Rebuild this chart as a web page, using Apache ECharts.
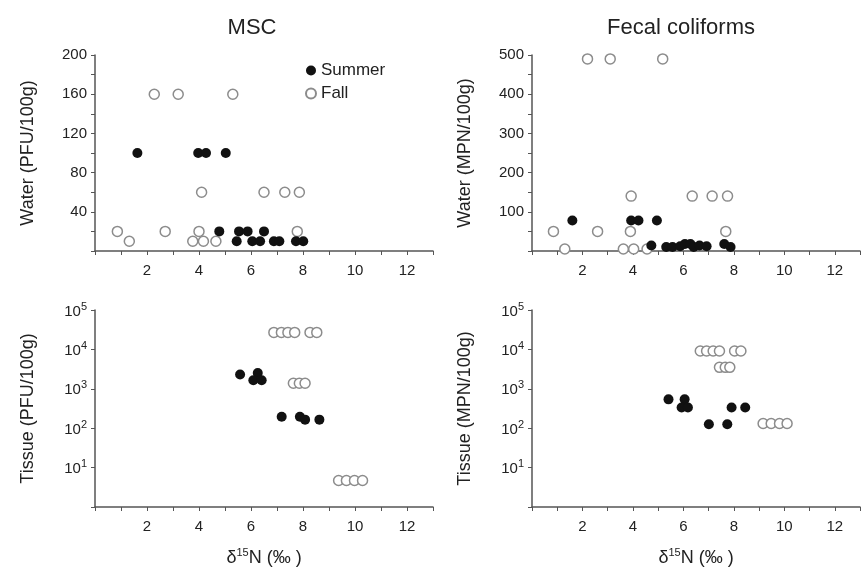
<!DOCTYPE html>
<html>
<head>
<meta charset="UTF-8">
<title>MSC / Fecal coliforms</title>
<script src="https://cdn.jsdelivr.net/npm/echarts@6/dist/echarts.min.js"></script>
<style>
  *{margin:0;padding:0;}
  body{background:#fff;}
  #main{width:863px;height:577px;}
</style>
</head>
<body>
<div id="main"></div>
<script type="text/javascript">
// values: [delta15N, count]
var mscWaterSummer = [[1.63,100],[3.97,100],[4.27,100],[5.03,100],[4.78,20],[5.54,20],[5.87,20],[6.5,20],
  [5.45,10],[6.05,10],[6.35,10],[6.88,10],[7.09,10],[7.73,10],[8.01,10]];
var mscWaterFall = [[2.28,160],[3.2,160],[5.3,160],[4.1,60],[6.5,60],[7.3,60],[7.86,60],
  [0.86,20],[2.7,20],[4.0,20],[7.78,20],[1.32,10],[3.76,10],[4.17,10],[4.65,10]];
var fecWaterSummer = [[1.6,78],[3.93,78],[4.22,78],[4.95,78],[4.73,14],[5.32,10],[5.57,10],[5.87,12],
  [6.06,18],[6.28,18],[6.41,10],[6.64,14],[6.92,12],[7.62,18],[7.87,10]];
var fecWaterFall = [[2.2,490],[3.1,490],[5.18,490],[3.93,140],[6.35,140],[7.14,140],[7.75,140],
  [0.85,50],[2.6,50],[3.9,50],[7.68,50],[1.3,5],[3.62,5],[4.03,5],[4.56,5]];
var mscTissueSummer = [[5.58,2300],[6.26,2500],[6.09,1650],[6.41,1650],[7.18,195],[7.88,195],[8.08,165],[8.63,165]];
var mscTissueFall = [[6.88,27000],[7.17,27000],[7.42,27000],[7.68,27000],[8.27,27000],[8.53,27000],
  [7.63,1380],[7.86,1380],[8.08,1380],[9.37,4.7],[9.67,4.7],[9.98,4.7],[10.29,4.7]];
var fecTissueSummer = [[5.41,540],[6.05,540],[5.93,336],[6.18,336],[7.01,126],[7.74,126],[7.91,336],[8.45,336]];
var fecTissueFall = [[6.67,9100],[6.92,9100],[7.18,9100],[7.43,9100],[8.03,9100],[8.28,9100],
  [7.43,3500],[7.66,3500],[7.84,3500],[9.16,132],[9.48,132],[9.81,132],[10.11,132]];

var titles = ['MSC', 'Fecal coliforms'];
var yNames = ['Water (PFU/100g)', 'Water (MPN/100g)', 'Tissue (PFU/100g)', 'Tissue (MPN/100g)'];
var xName = 'δ{s|15}N (‰ )';

var font = 'Liberation Sans Narrow, Liberation Sans, Arial, sans-serif';
var axisColor = '#555';

var myChart = echarts.init(document.getElementById('main'));

function xAxisFor(i) {
  var ax = {
    type: 'value', gridIndex: i, min: 0, max: 13, interval: 1,
    axisLine: {show: true, lineStyle: {color: axisColor, width: 1.5}},
    axisTick: {show: true, length: 4, lineStyle: {color: axisColor}},
    splitLine: {show: false},
    axisLabel: {
      color: '#222', fontSize: 15, fontFamily: font, margin: 12,
      formatter: function (v) { return (v % 2 === 0 && v > 0 && v <= 12) ? v : ''; }
    }
  };
  if (i >= 2) {
    ax.name = xName;
    ax.nameLocation = 'middle';
    ax.nameGap = 40;
    ax.nameTextStyle = {color: '#222', fontSize: 18, fontFamily: font,
      rich: {s: {fontSize: 11, fontFamily: font, color: '#222', verticalAlign: 'top', lineHeight: 22}}};
  }
  return ax;
}

function yAxisFor(i) {
  var ax = {
    gridIndex: i,
    name: yNames[i], nameLocation: 'middle', nameGap: 58,
    nameTextStyle: {color: '#222', fontSize: 18, fontFamily: font},
    axisLine: {show: true, lineStyle: {color: axisColor, width: 1.5}},
    axisTick: {show: true, length: 4, lineStyle: {color: axisColor}},
    splitLine: {show: false}
  };
  if (i === 0) {
    ax.type = 'value'; ax.min = 0; ax.max = 200; ax.interval = 20;
    ax.axisLabel = {color: '#222', fontSize: 15, fontFamily: font, margin: 8,
      formatter: function (v) { return (v % 40 === 0 && v > 0) ? v : ''; }};
  } else if (i === 1) {
    ax.type = 'value'; ax.min = 0; ax.max = 500; ax.interval = 50;
    ax.axisLabel = {color: '#222', fontSize: 15, fontFamily: font, margin: 8,
      formatter: function (v) { return (v % 100 === 0 && v > 0) ? v : ''; }};
  } else {
    ax.type = 'log'; ax.logBase = 10; ax.min = 1; ax.max = 100000;
    ax.minorTick = {show: false};
    ax.axisLabel = {color: '#222', fontSize: 15, fontFamily: font, margin: 8,
      formatter: function (v) {
        var n = Math.round(Math.log(v) / Math.LN10);
        return n === 0 ? '' : '{b|10}{s|' + n + '}';
      },
      rich: {
        b: {fontSize: 15, fontFamily: font, color: '#222', verticalAlign: 'bottom', lineHeight: 18},
        s: {fontSize: 11, fontFamily: font, color: '#222', verticalAlign: 'top', lineHeight: 16}
      }};
  }
  return ax;
}

var summerStyle = {color: '#111', opacity: 1};
var fallStyle = {color: '#fff', borderColor: '#8c8c8c', borderWidth: 1.5, opacity: 1};

function sc(name, idx, data, style, z) {
  return {name: name, type: 'scatter', xAxisIndex: idx, yAxisIndex: idx, data: data,
    symbol: 'circle', symbolSize: 10, itemStyle: style, z: z, silent: true};
}

option = {
  animation: false,
  backgroundColor: '#fff',
  title: [
    {text: titles[0], left: 247, top: 12, textAlign: 'center',
      textStyle: {fontSize: 22, fontWeight: 'normal', color: '#222', fontFamily: font}},
    {text: titles[1], left: 676, top: 12, textAlign: 'center',
      textStyle: {fontSize: 22, fontWeight: 'normal', color: '#222', fontFamily: font}}
  ],
  legend: {
    data: ['Summer', 'Fall'], orient: 'vertical', left: 300, top: 57, itemGap: 6,
    icon: 'circle', itemWidth: 10, itemHeight: 10,
    textStyle: {fontSize: 17, color: '#222', fontFamily: font}
  },
  grid: [
    {left: 95, top: 55, width: 338, height: 196},
    {left: 532, top: 55, width: 340, height: 196},
    {left: 95, top: 310, width: 338, height: 197},
    {left: 532, top: 310, width: 340, height: 197}
  ],
  xAxis: [xAxisFor(0), xAxisFor(1), xAxisFor(2), xAxisFor(3)],
  yAxis: [yAxisFor(0), yAxisFor(1), yAxisFor(2), yAxisFor(3)],
  series: [
    sc('Fall', 0, mscWaterFall, fallStyle, 2),
    sc('Summer', 0, mscWaterSummer, summerStyle, 3),
    sc('Fall', 1, fecWaterFall, fallStyle, 2),
    sc('Summer', 1, fecWaterSummer, summerStyle, 3),
    sc('Fall', 2, mscTissueFall, fallStyle, 2),
    sc('Summer', 2, mscTissueSummer, summerStyle, 3),
    sc('Fall', 3, fecTissueFall, fallStyle, 2),
    sc('Summer', 3, fecTissueSummer, summerStyle, 3)
  ]
};

myChart.setOption(option);
</script>
</body>
</html>
